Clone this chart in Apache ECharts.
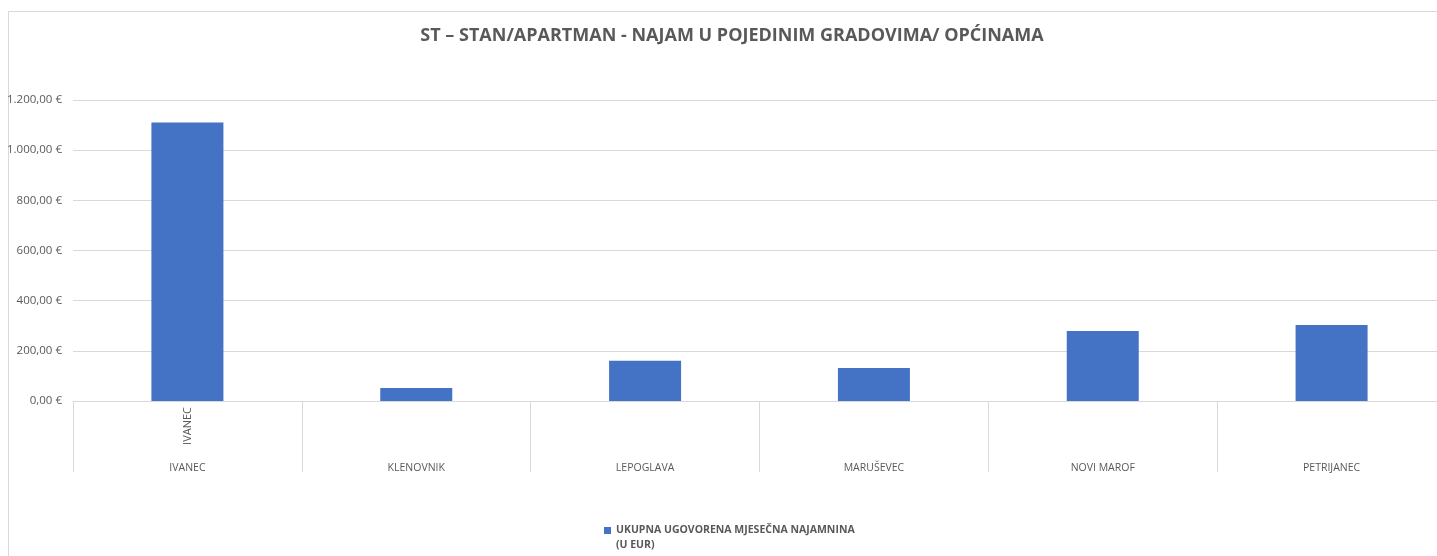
<!DOCTYPE html>
<html>
<head>
<meta charset="utf-8">
<script src="https://cdn.jsdelivr.net/npm/echarts@6/dist/echarts.min.js"></script>
<style>
  html, body { margin: 0; padding: 0; background: #fff; overflow: hidden; }
  #chart { width: 1447px; height: 556px; }
</style>
</head>
<body>
<div id="chart"></div>
<script>
const categories = ["IVANEC", "KLENOVNIK", "LEPOGLAVA", "MARUŠEVEC", "NOVI MAROF", "PETRIJANEC"];
const innerLabels = ["IVANEC", "", "", "", "", ""];
const rentValues = [1110, 52, 160, 132, 279, 303];
const seriesName = "UKUPNA UGOVORENA MJESEČNA NAJAMNINA\n(U EUR)";

const textColor = "#595959";
const gridColor = "#d9d9d9";
const fontFamily = "'Open Sans', 'Noto Sans', sans-serif";

function euro(v) {
    // 1200 -> "1.200,00 €"
    const parts = v.toFixed(2).split(".");
    const whole = parts[0].replace(/\B(?=(\d{3})+(?!\d))/g, ".");
    return whole + "," + parts[1] + " €";
}

const chart = echarts.init(document.getElementById("chart"));
const option = {
    animation: false,
    backgroundColor: "#fff",
    title: {
        text: "ST – STAN/APARTMAN - NAJAM U POJEDINIM GRADOVIMA/ OPĆINAMA",
        left: 727, top: 22, textAlign: "center",
        textStyle: { fontFamily: fontFamily, fontSize: 18, fontWeight: "bold", color: textColor }
    },
    legend: {
        top: 503, left: 599,
        itemWidth: 7, itemHeight: 7,
        icon: "rect",
        itemGap: 4,
        // leading blank line keeps the marker level with the first text line
        formatter: name => "\n" + name,
        textStyle: { fontFamily: fontFamily, fontSize: 10.5, fontWeight: "bold", color: textColor, lineHeight: 15 },
        data: [seriesName]
    },
    graphic: [
        { type: "line", shape: { x1: 8, y1: 11.5, x2: 1447, y2: 11.5 }, style: { stroke: gridColor, lineWidth: 1 } },
        { type: "line", shape: { x1: 8.5, y1: 11, x2: 8.5, y2: 556 }, style: { stroke: gridColor, lineWidth: 1 } }
    ],
    grid: { left: 73, top: 100, width: 1373, height: 301 },
    xAxis: [{
        type: "category",
        data: categories,
        axisLine: { lineStyle: { color: gridColor } },
        axisTick: { show: true, length: 71, lineStyle: { color: gridColor } },
        axisLabel: {
            interval: 0, rotate: 90, margin: 6,
            fontFamily: fontFamily, fontSize: 11, color: textColor,
            formatter: (v, i) => innerLabels[i]
        }
    }, {
        type: "category",
        data: categories,
        position: "bottom",
        offset: 54,
        axisLine: { show: false },
        axisTick: { show: false },
        axisLabel: { interval: 0, fontFamily: fontFamily, fontSize: 10.5, color: textColor }
    }],
    yAxis: {
        type: "value",
        min: 0, max: 1200, interval: 200,
        axisLine: { show: false },
        axisTick: { show: false },
        splitLine: { lineStyle: { color: gridColor } },
        axisLabel: { fontFamily: fontFamily, fontSize: 11.5, color: textColor, margin: 11, formatter: euro }
    },
    series: [{
        name: seriesName,
        type: "bar",
        xAxisIndex: 0,
        data: rentValues,
        barWidth: 72,
        itemStyle: { color: "#4472C4" }
    }]
};
chart.setOption(option);
</script>
</body>
</html>
